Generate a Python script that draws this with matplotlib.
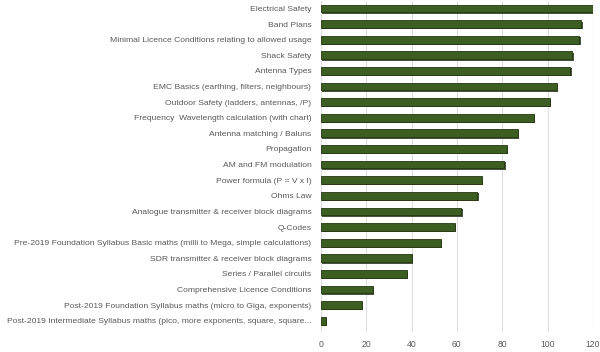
import matplotlib
matplotlib.use("Agg")
from matplotlib import pyplot as plt
import matplotlib.patheffects as pe

# data, top of chart first
topics = [
    "Electrical Safety",
    "Band Plans",
    "Minimal Licence Conditions relating to allowed usage",
    "Shack Safety",
    "Antenna Types",
    "EMC Basics (earthing, filters, neighbours)",
    "Outdoor Safety (ladders, antennas, /P)",
    "Frequency  Wavelength calculation (with chart)",
    "Antenna matching / Baluns",
    "Propagation",
    "AM and FM modulation",
    "Power formula (P = V x I)",
    "Ohms Law",
    "Analogue transmitter & receiver block diagrams",
    "Q-Codes",
    "Pre-2019 Foundation Syllabus Basic maths (milli to Mega, simple calculations)",
    "SDR transmitter & receiver block diagrams",
    "Series / Parallel circuits",
    "Comprehensive Licence Conditions",
    "Post-2019 Foundation Syllabus maths (micro to Giga, exponents)",
    "Post-2019 Intermediate Syllabus maths (pico, more exponents, square, square...",
]
votes = [121, 115, 114, 111, 110, 104, 101, 94, 87, 82, 81,
         71, 69, 62, 59, 53, 40, 38, 23, 18, 2]
x_ticks = [0, 20, 40, 60, 80, 100, 120]

plt.rcParams["font.family"] = ["Liberation Sans", "DejaVu Sans"]

fig = plt.figure(figsize=(6, 3.52), dpi=100)
ax = fig.add_axes([0.535, 0.058, 0.453, 0.94])

y = list(range(len(topics)))
bars = ax.barh(y, votes, height=0.5, color="#3c5e23", edgecolor="#23380f",
               linewidth=0.6, zorder=3)
for b in bars:
    b.set_path_effects([pe.SimplePatchShadow(offset=(1, -1), shadow_rgbFace="#1c2b10",
                                             alpha=0.8), pe.Normal()])

ax.set_yticks(y)
ax.set_yticklabels(topics)
ax.set_ylim(len(topics) - 0.3, -0.5)
ax.set_xlim(0, 120)
ax.set_xticks(x_ticks)

ax.grid(axis="x", color="#dedede", linewidth=0.8, zorder=0)
for s in ax.spines.values():
    s.set_visible(False)
ax.tick_params(axis="both", length=0, colors="#595959")
ax.tick_params(axis="y", pad=7, labelsize=6.1)
ax.tick_params(axis="x", pad=6, labelsize=6.2)

fig.savefig("out.png", dpi=100)
